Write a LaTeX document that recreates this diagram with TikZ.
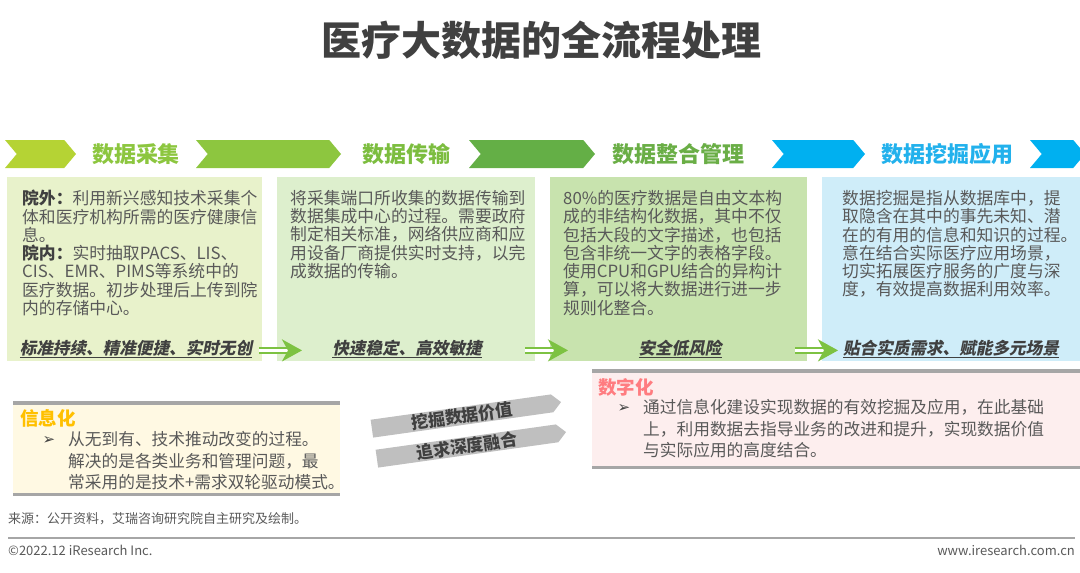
\documentclass[tikz,border=0pt]{standalone}
\usepackage{fontspec}
\setmainfont{Noto Sans CJK SC}
\newfontfamily\symbfont{DejaVu Sans}
\newfontfamily\slogfont[FakeSlant=0.2,BoldFeatures={FakeSlant=0.2}]{Noto Sans CJK SC}
\usetikzlibrary{shapes.symbols,arrows.meta,calc,positioning}

\definecolor{chevA}{HTML}{B5D334}
\definecolor{chevB}{HTML}{8DC63F}
\definecolor{chevC}{HTML}{64AF46}
\definecolor{chevD}{HTML}{00B0F0}
\definecolor{headA}{HTML}{8CC63F}
\definecolor{headB}{HTML}{7CBD3F}
\definecolor{headC}{HTML}{6AAE46}
\definecolor{headD}{HTML}{22B1EC}
\definecolor{fillA}{HTML}{E8F2CB}
\definecolor{fillB}{HTML}{DDEFCD}
\definecolor{fillC}{HTML}{C8E3AE}
\definecolor{fillD}{HTML}{CFEDF9}
\definecolor{bodygray}{HTML}{595959}
\definecolor{darkgray}{HTML}{404040}
\definecolor{arrowgreen}{HTML}{7DC242}
\definecolor{ribbongray}{HTML}{BFBFBF}
\definecolor{rulegray}{HTML}{A6A6A6}
\definecolor{infofill}{HTML}{FFF9E3}
\definecolor{infotitle}{HTML}{FFC000}
\definecolor{digifill}{HTML}{FDEEEE}
\definecolor{digititle}{HTML}{FF7C80}

\tikzset{
  chevron/.style={shape=signal, signal from=west, signal to=east, signal pointer angle=100,
    minimum height=28pt, inner sep=0pt, draw=none},
  headtext/.style={inner sep=0pt, font=\fontsize{22}{24}\selectfont\bfseries},
  stagebox/.style={anchor=north west, minimum width=255pt, minimum height=184pt, inner sep=0pt, draw=none},
  bodytext/.style={anchor=north west, align=left, inner sep=0pt, text=bodygray,
    font=\fontsize{16.8}{18.3}\selectfont},
  slogan/.style={inner sep=0pt, text=darkgray, font=\fontsize{16.6}{18}\selectfont\slogfont\bfseries},
  flowarrow/.style={draw=arrowgreen, double=white, double distance=2.5pt, line width=2.5pt,
    -{Stealth[length=20pt,width=22pt,inset=6pt]}},
  ribbon/.style={shape=signal, signal to=east, signal pointer angle=90, fill=ribbongray,
    minimum width=191pt, minimum height=18pt, inner sep=0pt, text=darkgray,
    font=\fontsize{17}{17}\selectfont\bfseries, rotate=8},
  notebox/.style={anchor=north west, inner sep=0pt, draw=none},
  noterule/.style={draw=rulegray, line width=3.5pt},
  notetitle/.style={anchor=west, inner sep=0pt, font=\fontsize{18.5}{20}\selectfont\bfseries},
  bullet/.style={inner sep=0pt, text=darkgray, font=\symbfont\fontsize{15}{15}\selectfont},
  notetext/.style={anchor=north west, align=left, inner sep=0pt, text=bodygray,
    font=\fontsize{16.7}{21.5}\selectfont},
  foot/.style={inner sep=0pt, text=bodygray, font=\fontsize{13}{14}\selectfont},
}

\begin{document}
\begin{tikzpicture}[x=1pt, y=-1pt]
    \useasboundingbox (0,0) rectangle (1080,573);

    % Title
    \node[inner sep=0pt, text=darkgray, font=\fontsize{40}{42}\selectfont\bfseries] (title) at (541,40) {医疗大数据的全流程处理};

    % Stage headers
    \node[chevron, fill=chevA, minimum width=71pt] (chev1) at (40.5,154) {};
    \node[headtext, text=headA] (head1) at (136,154) {数据采集};
    \node[chevron, fill=chevB, minimum width=145pt] (chev2) at (268.5,154) {};
    \node[headtext, text=headB] (head2) at (406,154) {数据传输};
    \node[chevron, fill=chevC, minimum width=126pt] (chev3) at (532,154) {};
    \node[headtext, text=headC] (head3) at (678,154) {数据整合管理};
    \node[chevron, fill=chevD, minimum width=93pt] (chev4) at (818.5,154) {};
    \node[headtext, text=headD] (head4) at (947,154) {数据挖掘应用};
    \node[chevron, fill=chevD, minimum width=55pt] (chev5) at (1057.5,154) {};

    % Stage boxes
    \node[stagebox, fill=fillA] (b1) at (7,177) {};
    \node[stagebox, fill=fillB, minimum width=258pt] (b2) at (277,177) {};
    \node[stagebox, fill=fillC, minimum width=257pt] (b3) at (550,177) {};
    \node[stagebox, fill=fillD, minimum width=258pt] (b4) at (822,177) {};

    % Stage texts
    \node[bodytext] (t1) at (22,190) {{\bfseries\color{darkgray}院外：}利用新兴感知技术采集个\\
        体和医疗机构所需的医疗健康信\\
        息。\\
        {\bfseries\color{darkgray}院内：}实时抽取PACS、LIS、\\
        CIS、EMR、PIMS等系统中的\\
        医疗数据。初步处理后上传到院\\
        内的存储中心。};
    \node[bodytext] (t2) at (290,190) {将采集端口所收集的数据传输到\\
        数据集成中心的过程。需要政府\\
        制定相关标准，网络供应商和应\\
        用设备厂商提供实时支持，以完\\
        成数据的传输。};
    \node[bodytext] (t3) at (563,190) {80\%的医疗数据是自由文本构\\
        成的非结构化数据，其中不仅\\
        包括大段的文字描述，也包括\\
        包含非统一文字的表格字段。\\
        使用CPU和GPU结合的异构计\\
        算，可以将大数据进行进一步\\
        规则化整合。};
    \node[bodytext] (t4) at (842,190) {数据挖掘是指从数据库中，提\\
        取隐含在其中的事先未知、潜\\
        在的有用的信息和知识的过程。\\
        意在结合实际医疗应用场景，\\
        切实拓展医疗服务的广度与深\\
        度，有效提高数据利用效率。};

    % Slogans
    \node[slogan] (s1) at (136,349) {\underline{标准持续、精准便捷、实时无创}};
    \node[slogan] (s2) at (407,349) {\underline{快速稳定、高效敏捷}};
    \node[slogan] (s3) at (680,349) {\underline{安全低风险}};
    \node[slogan] (s4) at (951,349) {\underline{贴合实质需求、赋能多元场景}};

    % Arrows
    \draw[flowarrow] ($(b1.south east)+(-3,-11)$) -- ($(b2.south west)+(25,-11)$);
    \draw[flowarrow] ($(b2.south east)+(-10,-11)$) -- ($(b3.south west)+(18,-11)$);
    \draw[flowarrow] ($(b3.south east)+(-12,-11)$) -- ($(b4.south west)+(16,-11)$);

    % Informatization
    \node[notebox, fill=infofill, minimum width=327pt, minimum height=91pt] (info) at (13,403) {};
    \draw[noterule] (info.north west) -- (info.north east);
    \draw[noterule] (info.south west) -- (info.south east);
    \node[notetitle, text=infotitle] (infohead) at (20,418) {信息化};
    \node[bullet] (infobul) at (49,440) {➢};
    \node[notetext] (infotext) at (68,431.5) {从无到有、技术推动改变的过程。\\
        解决的是各类业务和管理问题，最\\
        常采用的是技术+需求双轮驱动模式。};

    % Ribbons
    \node[ribbon] (rib1) at (462,416) {挖掘数据价值};
    \node[ribbon] (rib2) at (467,446) {追求深度融合};

    % Digitization
    \node[notebox, fill=digifill, minimum width=490pt, minimum height=96pt] (digi) at (592,371) {};
    \draw[noterule] (digi.north west) -- (digi.north east);
    \draw[noterule] (digi.south west) -- (digi.south east);
    \node[notetitle, text=digititle] (digihead) at (598,387) {数字化};
    \node[bullet] (digibul) at (624,408) {➢};
    \node[notetext] (digitext) at (643,399.5) {通过信息化建设实现数据的有效挖掘及应用，在此基础\\
        上，利用数据去指导业务的改进和提升，实现数据价值\\
        与实际应用的高度结合。};

    % Footer
    \node[foot, anchor=west] (source) at (8,519) {来源：公开资料，艾瑞咨询研究院自主研究及绘制。};
    \draw[rulegray, line width=1.5pt] (8,538) -- (1075,538);
    \node[foot, anchor=west] (copy) at (8,550) {©2022.12 iResearch Inc.};
    \node[foot, anchor=east] (web) at (1075,550) {www.iresearch.com.cn};
\end{tikzpicture}
\end{document}
